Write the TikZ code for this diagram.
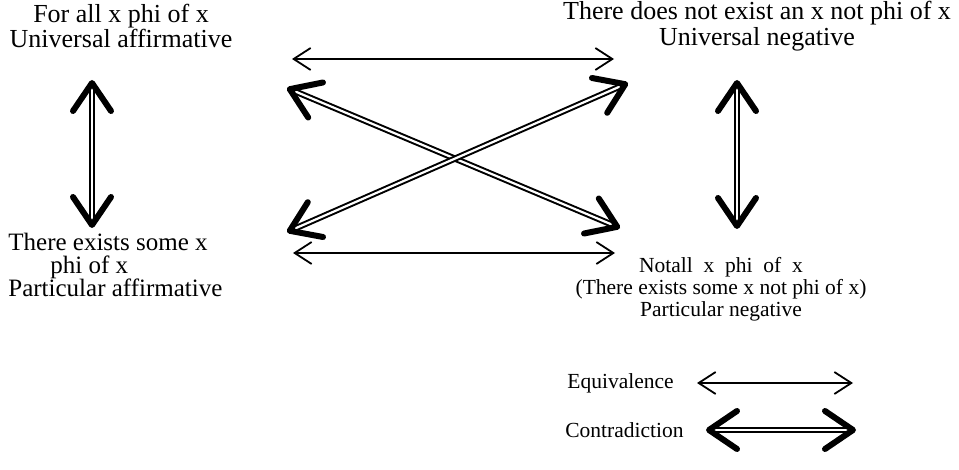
\documentclass[tikz,border=0pt]{standalone}
\usepackage{fontspec}
\setmainfont{Liberation Serif}
\usetikzlibrary{arrows.meta}
\usetikzlibrary{positioning}

\tikzset{
	txt/.style={font=\fontsize{13}{11.5}\selectfont, align=center, inner sep=0pt},
	small/.style={font=\fontsize{10.75}{11}\selectfont},
	thinhead/.tip={Straight Barb[length=8.5pt,width=11pt,line width=0.9pt]},
	thickhead/.tip={Straight Barb[length=14pt,width=19pt,line width=3pt,round]},
	equiv/.style={line width=1pt, thinhead-thinhead},
	contra/.style={double, double distance=1.1pt, line width=1pt, thickhead-thickhead},
}

\begin{document}
\begin{tikzpicture}[x=0.5pt,y=-0.5pt]
	\useasboundingbox (0,0) rectangle (959,470);
	\node[txt] (ua) at (121,26) {For all x phi of x\\Universal affirmative};
	\node[txt] (un) at (757,26) {There does not exist an x not phi of x\\Universal negative};
	\node[txt,font=\fontsize{12.5}{11.5}\selectfont,align=left,anchor=west] (pa) at (8,265) {There exists some x\\\hspace*{21pt}phi of x\\Particular affirmative};
	\node[txt,small] (pn) at (721,289) {Notall\ \ x\ \ phi\ \ of\ \ x\\(There exists some x not phi of x)\\Particular negative};
	\node[txt,small,anchor=west] (eqv) at (567,383) {Equivalence};
	\node[txt,small,anchor=west] (ctr) at (565,430) {Contradiction};
	
	% arrow ends
	\coordinate (top-l) at (292,59);
	\coordinate (top-r) at (614,59);
	\coordinate (bot-l) at (293,253);
	\coordinate (bot-r) at (615,253);
	\coordinate (ua-x) at (287,88);
	\coordinate (pn-x) at (620,228);
	\coordinate (pa-x) at (287,232);
	\coordinate (un-x) at (628,83);
	\coordinate (ua-v) at (92,80);
	\coordinate (pa-v) at (92,228);
	\coordinate (un-v) at (737,80);
	\coordinate (pn-v) at (737,229);
	\coordinate (eqv-l) at (697,383);
	\coordinate (eqv-r) at (853,383);
	\coordinate (ctr-l) at (706,430);
	\coordinate (ctr-r) at (856,430);
	
	\draw[equiv] (top-l) -- (top-r);
	\draw[equiv] (bot-l) -- (bot-r);
	\draw[contra] (ua-x) -- (pn-x);
	\draw[contra] (pa-x) -- (un-x);
	\draw[contra] (ua-v) -- (pa-v);
	\draw[contra] (un-v) -- (pn-v);
	
	\draw[equiv] (eqv-l) -- (eqv-r);
	\draw[contra] (ctr-l) -- (ctr-r);
\end{tikzpicture}
\end{document}
